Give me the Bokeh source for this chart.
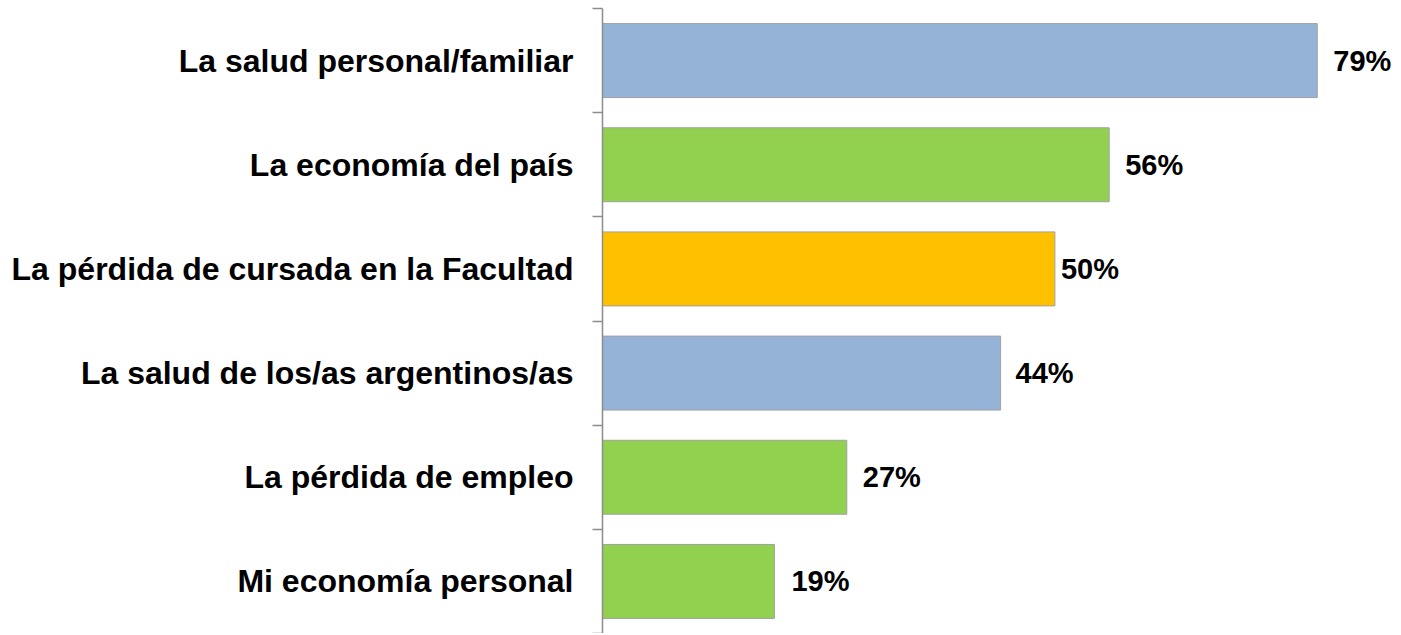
import numpy as np
from bokeh.plotting import figure
from bokeh.models import ColumnDataSource, Range1d, FixedTicker
from bokeh.core.properties import value
from bokeh.embed import file_html
from bokeh.resources import INLINE

categories = [
    "La salud personal/familiar",
    "La economía del país",
    "La pérdida de cursada en la Facultad",
    "La salud de los/as argentinos/as",
    "La pérdida de empleo",
    "Mi economía personal",
]
percentages = [79, 56, 50, 44, 27, 19]
bar_colors = ["#95B3D7", "#92D050", "#FFC000", "#95B3D7", "#92D050", "#92D050"]
label_gaps = [16, 16, 6, 15, 16, 17]

n = len(categories)
ypos = [n - 1 - i for i in range(n)]
src = ColumnDataSource(dict(
    y=ypos, v=percentages, c=bar_colors,
    t=[f"{v}%" for v in percentages], g=label_gaps,
))

p = figure(width=1400, height=633, output_backend="svg", toolbar_location=None,
           x_range=Range1d(0, 88.2), y_range=Range1d(-0.5, n - 0.5),
           min_border_left=602, min_border_right=0, min_border_top=8, min_border_bottom=0)
p.hbar(y="y", left=0, right="v", height=0.71, fill_color="c",
       line_color="#a0a0a0", line_width=1, source=src)
p.text(x="v", y="y", text="t", x_offset="g", text_align="left", text_baseline="middle",
       text_font=value("Liberation Sans"), text_font_style="bold", text_font_size="29px",
       text_color="black", source=src)

p.xaxis.visible = False
p.xgrid.visible = False
p.ygrid.visible = False
p.outline_line_color = None

yax = p.yaxis[0]
yax.ticker = FixedTicker(ticks=ypos, minor_ticks=[k - 0.5 for k in range(n + 1)])
yax.major_label_overrides = {y: c for y, c in zip(ypos, categories)}
yax.major_tick_out = 0
yax.major_tick_in = 0
yax.minor_tick_out = 10
yax.minor_tick_in = 0
yax.axis_line_color = "#8c8c8c"
yax.axis_line_width = 1.5
yax.minor_tick_line_color = "#8c8c8c"
yax.minor_tick_line_width = 1.5
yax.major_label_standoff = 19
yax.major_label_text_font = "Liberation Sans"
yax.major_label_text_font_style = "bold"
yax.major_label_text_font_size = "32px"
yax.major_label_text_color = "black"

open("out.html", "w").write(file_html(p, INLINE))
